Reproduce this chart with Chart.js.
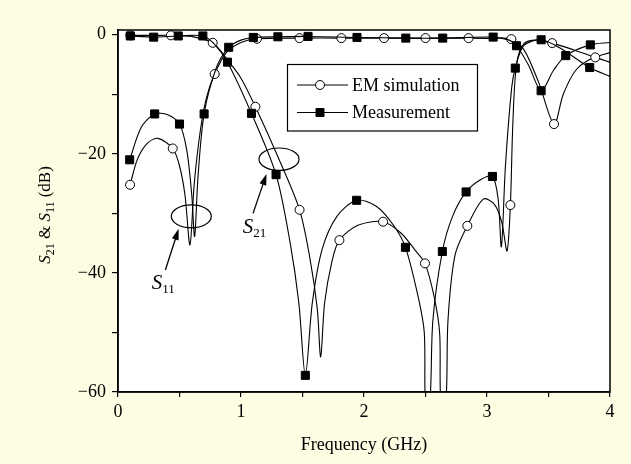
<!DOCTYPE html>
<html>
<head>
<meta charset="utf-8">
<script src="https://cdn.jsdelivr.net/npm/chart.js"></script>
<style>
  html, body { margin: 0; padding: 0; background: #fefde3; }
  canvas { display: block; }
</style>
</head>
<body>
<canvas id="sparamChart" width="631" height="464"></canvas>
<script>
// each point: [frequency GHz, dB, 1 = draw marker]
var s21Sim = [
  [0.10, -0.1, 1], [0.30, -0.1, 0], [0.43, -0.1, 1], [0.60, -0.3, 0], [0.77, -1.35, 1],
  [0.90, -4.5, 0], [1.00, -7.3, 0], [1.117, -12.1, 1], [1.30, -20.5, 0], [1.476, -29.4, 1],
  [1.56, -37.5, 0], [1.62, -46, 0], [1.648, -54.1, 0], [1.68, -45, 0], [1.74, -38, 0],
  [1.80, -34.5, 1], [1.95, -32, 0], [2.155, -31.4, 1], [2.30, -33.3, 0], [2.42, -36.3, 0],
  [2.496, -38.4, 1], [2.57, -44, 0], [2.615, -50.1, 0], [2.625, -62, 0], [2.665, -62, 0],
  [2.683, -47.9, 0], [2.74, -37, 0], [2.84, -32.1, 1], [2.97, -27.6, 0], [3.06, -28.5, 0],
  [3.12, -31.5, 0], [3.163, -36.3, 0], [3.19, -28.6, 1], [3.21, -15, 0], [3.24, -5, 0],
  [3.30, -1.5, 0], [3.40, -0.9, 0], [3.53, -1.4, 1], [3.70, -2.5, 0], [3.88, -3.8, 1],
  [4.00, -4.6, 0]
];
var s11Sim = [
  [0.098, -25.2, 1], [0.16, -20.8, 0], [0.24, -18.2, 0], [0.325, -17.4, 0], [0.445, -19.1, 1],
  [0.50, -22, 0], [0.545, -27, 0], [0.585, -35.3, 0], [0.62, -25, 0], [0.67, -16, 0],
  [0.72, -10.5, 0], [0.786, -6.6, 1], [0.88, -3, 0], [1.00, -1.3, 0], [1.13, -0.67, 1],
  [1.476, -0.56, 1], [1.816, -0.56, 1], [2.163, -0.56, 1], [2.50, -0.56, 1], [2.85, -0.56, 1],
  [3.05, -0.6, 0], [3.198, -0.73, 1], [3.30, -2.5, 0], [3.42, -8, 0], [3.545, -15, 1],
  [3.62, -10, 0], [3.72, -6, 0], [3.85, -4, 0], [4.00, -3.0, 0]
];
var s21Meas = [
  [0.10, -0.2, 1], [0.29, -0.4, 1], [0.49, -0.2, 1], [0.69, -0.2, 1], [0.78, -1.5, 0],
  [0.89, -4.6, 1], [1.085, -13.2, 1], [1.285, -23.5, 1], [1.40, -35, 0], [1.47, -45, 0],
  [1.523, -57.2, 1], [1.58, -45, 0], [1.66, -36, 0], [1.78, -30.5, 0], [1.94, -27.8, 1],
  [2.10, -28.8, 0], [2.24, -32, 0], [2.337, -35.7, 1], [2.44, -44, 0], [2.49, -50, 0],
  [2.50, -62, 0], [2.535, -62, 0], [2.56, -48, 0], [2.637, -36.4, 1], [2.72, -30.5, 0],
  [2.83, -26.4, 1], [2.95, -24.3, 0], [3.044, -23.8, 1], [3.09, -27.5, 0], [3.117, -35.6, 0],
  [3.15, -22, 0], [3.20, -9, 0], [3.23, -5.6, 1], [3.30, -1.8, 0], [3.44, -0.84, 1],
  [3.60, -2.3, 0], [3.835, -5.5, 1], [4.00, -7.0, 0]
];
var s11Meas = [
  [0.095, -21.0, 1], [0.19, -15.5, 0], [0.298, -13.3, 1], [0.40, -13.4, 0], [0.50, -15.0, 1],
  [0.56, -19.5, 0], [0.60, -27, 0], [0.623, -33.9, 0], [0.65, -24, 0], [0.70, -13.3, 1],
  [0.80, -5.5, 0], [0.90, -2.1, 1], [1.00, -0.9, 0], [1.10, -0.45, 1], [1.30, -0.34, 1],
  [1.545, -0.28, 1], [1.943, -0.45, 1], [2.34, -0.56, 1], [2.64, -0.56, 1], [3.05, -0.39, 1],
  [3.18, -0.9, 0], [3.24, -1.85, 1], [3.34, -5.2, 0], [3.44, -9.4, 1], [3.54, -6, 0],
  [3.64, -3.5, 1], [3.84, -1.7, 1], [4.00, -1.3, 0]
];
var xLabelTicks = [0, 1, 2, 3, 4];
var yLabelTicks = [-60, -40, -20, 0];
var legendLabels = ['EM simulation', 'Measurement'];

var serif = '"Liberation Serif", "Times New Roman", serif';

function curve(pts, sim) {
  return {
    data: pts.map(function (p) { return { x: p[0], y: p[1], m: p[2] }; }),
    borderColor: '#000',
    borderWidth: 1.1,
    tension: 0.3,
    fill: false,
    pointStyle: sim ? 'circle' : 'rect',
    pointRadius: function (c) { return c.raw && c.raw.m ? (sim ? 4.5 : 5.7) : 0; },
    pointHoverRadius: 0,
    pointBackgroundColor: sim ? '#fff' : '#000',
    pointBorderColor: '#000',
    pointBorderWidth: 1
  };
}

function drawMarker(ctx, x, y, sim) {
  ctx.beginPath();
  if (sim) {
    ctx.arc(x, y, 4.5, 0, Math.PI * 2);
    ctx.fillStyle = '#fff';
  } else {
    ctx.rect(x - 4, y - 4, 8, 8);
    ctx.fillStyle = '#000';
  }
  ctx.fill();
  ctx.lineWidth = 1;
  ctx.strokeStyle = '#000';
  ctx.stroke();
}

function subText(ctx, x, y, main, sub, big, small) {
  ctx.font = 'italic ' + big + 'px ' + serif;
  ctx.fillText(main, x, y);
  var w = ctx.measureText(main).width;
  ctx.font = small + 'px ' + serif;
  ctx.fillText(sub, x + w, y + small * 0.3);
}

function arrow(ctx, x0, y0, x1, y1) {
  var a = Math.atan2(y1 - y0, x1 - x0);
  ctx.beginPath();
  ctx.moveTo(x0, y0);
  ctx.lineTo(x1 - 8 * Math.cos(a), y1 - 8 * Math.sin(a));
  ctx.lineWidth = 1.3;
  ctx.stroke();
  ctx.beginPath();
  ctx.moveTo(x1, y1);
  ctx.lineTo(x1 - 11 * Math.cos(a) + 3.5 * Math.sin(a), y1 - 11 * Math.sin(a) - 3.5 * Math.cos(a));
  ctx.lineTo(x1 - 11 * Math.cos(a) - 3.5 * Math.sin(a), y1 - 11 * Math.sin(a) + 3.5 * Math.cos(a));
  ctx.closePath();
  ctx.fill();
}

var decor = {
  id: 'decor',
  beforeDraw: function (chart) {
    var a = chart.chartArea, ctx = chart.ctx;
    ctx.save();
    ctx.fillStyle = '#fff';
    ctx.fillRect(a.left, a.top, a.right - a.left, a.bottom - a.top);
    ctx.restore();
  },
  afterDatasetsDraw: function (chart) {
    var ctx = chart.ctx, xs = chart.scales.x, ys = chart.scales.y;
    ctx.save();
    ctx.strokeStyle = '#000';
    ctx.fillStyle = '#000';

    // ellipses around the S11 and S21 groups
    ctx.lineWidth = 1.2;
    ctx.beginPath();
    ctx.ellipse(xs.getPixelForValue(0.596), ys.getPixelForValue(-30.5), 20, 11.5, 0, 0, Math.PI * 2);
    ctx.stroke();
    ctx.beginPath();
    ctx.ellipse(xs.getPixelForValue(1.309), ys.getPixelForValue(-20.9), 20, 11.2, 0, 0, Math.PI * 2);
    ctx.stroke();

    arrow(ctx, xs.getPixelForValue(0.385), ys.getPixelForValue(-39.5), xs.getPixelForValue(0.493), ys.getPixelForValue(-32.6));
    arrow(ctx, xs.getPixelForValue(1.098), ys.getPixelForValue(-30.0), xs.getPixelForValue(1.207), ys.getPixelForValue(-23.4));

    ctx.textBaseline = 'alphabetic';
    ctx.textAlign = 'left';
    subText(ctx, xs.getPixelForValue(0.274), ys.getPixelForValue(-42.7), 'S', '11', 21, 13);
    subText(ctx, xs.getPixelForValue(1.014), ys.getPixelForValue(-33.3), 'S', '21', 21, 13);

    // legend box
    ctx.fillStyle = '#fff';
    ctx.fillRect(287.5, 64.5, 190, 66.5);
    ctx.lineWidth = 1.2;
    ctx.strokeRect(287.5, 64.5, 190, 66.5);
    ctx.font = '18px ' + serif;
    ctx.textBaseline = 'middle';
    [85, 112.5].forEach(function (ly, i) {
      ctx.beginPath();
      ctx.moveTo(297, ly);
      ctx.lineTo(348, ly);
      ctx.lineWidth = 1.1;
      ctx.stroke();
      drawMarker(ctx, 320, ly, i === 0);
      ctx.fillStyle = '#000';
      ctx.fillText(legendLabels[i], 352, ly + 1);
    });
    ctx.restore();
  },
  afterDraw: function (chart) {
    var a = chart.chartArea, ctx = chart.ctx;
    ctx.save();
    ctx.strokeStyle = '#000';
    ctx.lineWidth = 1.5;
    ctx.strokeRect(a.left, a.top, a.right - a.left, a.bottom - a.top);

    // y-axis title with italic S and subscripts
    var parts = [
      ['S', 'italic 17px ', 0], ['21', '12px ', 4], [' & ', '17px ', 0],
      ['S', 'italic 17px ', 0], ['11', '12px ', 4], [' (dB)', '17px ', 0]
    ];
    var total = 0;
    parts.forEach(function (p) { ctx.font = p[1] + serif; total += ctx.measureText(p[0]).width; });
    ctx.translate(50, (a.top + a.bottom) / 2 + 4);
    ctx.rotate(-Math.PI / 2);
    ctx.fillStyle = '#000';
    ctx.textBaseline = 'alphabetic';
    var px = -total / 2;
    parts.forEach(function (p) {
      ctx.font = p[1] + serif;
      ctx.fillText(p[0], px, p[2]);
      px += ctx.measureText(p[0]).width;
    });
    ctx.restore();
  }
};

new Chart(document.getElementById('sparamChart').getContext('2d'), {
  type: 'line',
  data: {
    datasets: [curve(s21Meas, false), curve(s11Meas, false), curve(s21Sim, true), curve(s11Sim, true)]
  },
  options: {
    responsive: false,
    animation: false,
    events: [],
    layout: { padding: { top: 30, right: 21, left: 0, bottom: 0 } },
    plugins: { legend: { display: false }, tooltip: { enabled: false } },
    scales: {
      x: {
        type: 'linear',
        min: 0,
        max: 4,
        afterFit: function (s) { s.height = 72; },
        border: { display: true, color: '#000', width: 1.5 },
        grid: { drawOnChartArea: false, drawTicks: true, tickLength: 5, color: '#000', lineWidth: 1.2 },
        ticks: {
          stepSize: 0.5,
          padding: 4,
          color: '#000',
          maxRotation: 0,
          font: { family: serif, size: 18 },
          callback: function (v) { return xLabelTicks.indexOf(v) >= 0 ? String(v) : ''; }
        },
        title: {
          display: true,
          text: 'Frequency (GHz)',
          color: '#000',
          font: { family: serif, size: 18 },
          padding: { top: 0, bottom: 8 }
        }
      },
      y: {
        type: 'linear',
        min: -60,
        max: 0.8,
        afterFit: function (s) { s.width = 118; },
        border: { display: true, color: '#000', width: 1.5 },
        grid: { drawOnChartArea: false, drawTicks: true, tickLength: 6, color: '#000', lineWidth: 1.2 },
        ticks: {
          stepSize: 10,
          includeBounds: false,
          padding: 6,
          color: '#000',
          font: { family: serif, size: 18 },
          callback: function (v) {
            return yLabelTicks.indexOf(v) >= 0 ? (v < 0 ? '\u2212' + Math.abs(v) : String(v)) : '';
          }
        }
      }
    }
  },
  plugins: [decor]
});
</script>
</body>
</html>
